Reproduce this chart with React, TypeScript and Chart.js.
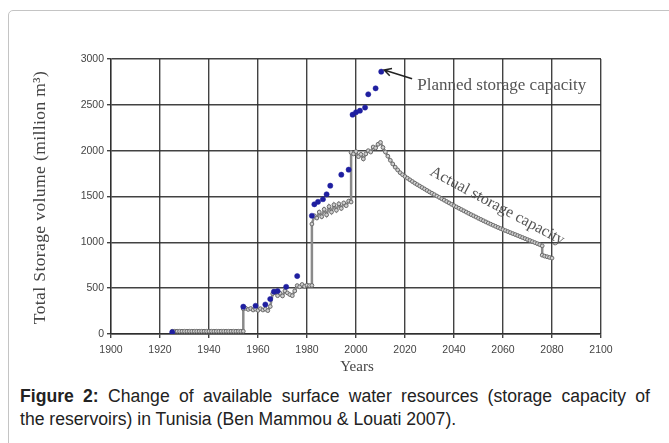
import React, { useEffect, useRef } from "react";
import { Chart, registerables } from "chart.js";

Chart.register(...registerables);

// ---- data ----
const xTickValues = [1900, 1920, 1940, 1960, 1980, 2000, 2020, 2040, 2060, 2080, 2100];
const yTickValues = [0, 500, 1000, 1500, 2000, 2500, 3000];

const plannedYears = [1925, 1954, 1959, 1963, 1965, 1966.5, 1968, 1971.5, 1976, 1982, 1983, 1984.5, 1986.5, 1988, 1989.5, 1994, 1997, 1998.6, 2000, 2001.6, 2003.7, 2005, 2008, 2010.3];
const plannedValues = [20, 298, 308, 322, 382, 462, 468, 515, 632, 1290, 1415, 1442, 1470, 1524, 1618, 1738, 1793, 2393, 2419, 2436, 2470, 2615, 2680, 2862];

const actualYears = [
  1925, 1926, 1927, 1928, 1929, 1930, 1931, 1932, 1933, 1934, 1935, 1936, 1937, 1938, 1939, 1940,
  1941, 1942, 1943, 1944, 1945, 1946, 1947, 1948, 1949, 1950, 1951, 1952, 1953, 1954,
  1954, 1955, 1956, 1957, 1958, 1959, 1960, 1961, 1962, 1963, 1964, 1965, 1966, 1967, 1968, 1969,
  1970, 1971, 1972, 1973, 1974, 1975, 1976, 1977, 1978, 1979, 1980, 1981, 1982,
  1982, 1983, 1984, 1985, 1986, 1987, 1988, 1989, 1990, 1991, 1992, 1993, 1994, 1995, 1996, 1997, 1998,
  1998, 1999, 2000, 2001, 2002, 2003, 2004, 2005, 2006, 2007, 2008, 2009, 2010,
  2011, 2012, 2013, 2014, 2015, 2016, 2017, 2018, 2019, 2020, 2021, 2022, 2023, 2024, 2025,
  2026, 2027, 2028, 2029, 2030, 2031, 2032, 2033, 2034, 2035, 2036, 2037, 2038, 2039, 2040,
  2041, 2042, 2043, 2044, 2045, 2046, 2047, 2048, 2049, 2050, 2051, 2052, 2053, 2054, 2055,
  2056, 2057, 2058, 2059, 2060, 2061, 2062, 2063, 2064, 2065, 2066, 2067, 2068, 2069, 2070,
  2071, 2072, 2073, 2074, 2075, 2076, 2076, 2077, 2078, 2079, 2080,
];
const actualValues = [
  30, 30, 30, 30, 30, 30, 30, 30, 30, 30, 30, 30, 30, 30, 30, 30,
  30, 30, 30, 30, 30, 30, 30, 30, 30, 30, 30, 30, 30, 30,
  275, 280, 268, 278, 262, 272, 258, 276, 262, 272, 255, 300, 440, 452, 418, 445,
  415, 470, 448, 430, 418, 470, 528, 515, 540, 520, 532, 528, 530,
  1200, 1290, 1265, 1330, 1280, 1360, 1300, 1390, 1330, 1410, 1350, 1420, 1370, 1430, 1400, 1450, 1440,
  1980, 1965, 1990, 1935, 1960, 1910, 1965, 2000, 1985, 2040, 2030, 2070, 2090,
  2035, 1985, 1940, 1895, 1855, 1820, 1790, 1760, 1738, 1718, 1700, 1682, 1664, 1646, 1630,
  1614, 1598, 1582, 1566, 1550, 1535, 1520, 1505, 1490, 1475, 1460, 1445, 1430, 1415, 1400,
  1386, 1372, 1358, 1344, 1330, 1316, 1302, 1289, 1276, 1262, 1249, 1236, 1223, 1210, 1198,
  1186, 1174, 1162, 1150, 1139, 1128, 1117, 1106, 1095, 1085, 1074, 1063, 1052, 1041, 1030,
  1019, 1008, 997, 986, 975, 962, 860, 850, 843, 835, 828,
];

const yAxisTitle = "Total Storage volume (million m³)";
const xAxisTitle = "Years";
const plannedLabel = "Planned storage capacity";
const actualLabel = "Actual storage capacity";
const captionBold = "Figure 2:";
const captionLine1 = " Change of available surface water resources (storage capacity of";
const captionLine2 = "the reservoirs) in Tunisia (Ben Mammou & Louati 2007).";

const SERIF = '"Liberation Serif", "DejaVu Serif", serif';
const SANS = '"Liberation Sans", Arial, sans-serif';

const textPlugin = {
  id: "texts",
  afterDraw(chart: any) {
    const ctx = chart.ctx;
    const { left, right, top, bottom } = chart.chartArea;
    const xs = chart.scales.x;
    const ys = chart.scales.y;
    ctx.save();
    // y axis title
    ctx.fillStyle = "#444";
    ctx.font = `17.5px ${SERIF}`;
    (ctx as any).letterSpacing = "0.4px";
    ctx.textAlign = "center";
    ctx.textBaseline = "middle";
    ctx.save();
    ctx.translate(left - 71, (top + bottom) / 2 + 1);
    ctx.rotate(-Math.PI / 2);
    ctx.fillText(yAxisTitle, 0, 0);
    ctx.restore();
    (ctx as any).letterSpacing = "0px";
    // x axis title
    ctx.font = `15px ${SERIF}`;
    ctx.fillText(xAxisTitle, (left + right) / 2 + 1, bottom + 33);

    // planned annotation
    ctx.fillStyle = "#555";
    ctx.font = `17px ${SERIF}`;
    ctx.textAlign = "left";
    ctx.fillText(plannedLabel, xs.getPixelForValue(2025), ys.getPixelForValue(2715));
    // arrow
    const tx = xs.getPixelForValue(2022.9), ty = ys.getPixelForValue(2785);
    const hx = xs.getPixelForValue(2011.5), hy = ys.getPixelForValue(2880);
    ctx.strokeStyle = "#222";
    ctx.lineWidth = 1.5;
    ctx.beginPath();
    ctx.moveTo(tx, ty);
    ctx.lineTo(hx, hy);
    const ang = Math.atan2(ty - hy, tx - hx);
    const len = 8;
    ctx.moveTo(hx + len * Math.cos(ang + 0.5), hy + len * Math.sin(ang + 0.5));
    ctx.lineTo(hx, hy);
    ctx.lineTo(hx + len * Math.cos(ang - 0.5), hy + len * Math.sin(ang - 0.5));
    ctx.stroke();

    // actual annotation (rotated)
    ctx.fillStyle = "#555";
    ctx.font = `16px ${SERIF}`;
    ctx.textAlign = "center";
    ctx.save();
    ctx.translate(xs.getPixelForValue(2057.6), ys.getPixelForValue(1396));
    ctx.rotate(0.49);
    ctx.fillText(actualLabel, 0, 0);
    ctx.restore();
    ctx.restore();
  },
};

export default function App() {
  const ref = useRef<HTMLCanvasElement | null>(null);

  useEffect(() => {
    if (!ref.current) return;
    const gridColor = "rgba(45,45,45,0.9)";
    const tickFont = { family: '"Liberation Sans Narrow", "Liberation Sans", Arial', size: 10.5 };
    const chart = new Chart(ref.current, {
      type: "scatter",
      data: {
        datasets: [
          {
            label: plannedLabel,
            data: plannedYears.map((x, i) => ({ x, y: plannedValues[i] })),
            showLine: false,
            pointRadius: 2.6,
            pointBackgroundColor: "#1f1fa0",
            pointBorderColor: "#1f1fa0",
            pointBorderWidth: 0.5,
          },
          {
            label: actualLabel,
            data: actualYears.map((x, i) => ({ x, y: actualValues[i] })),
            showLine: true,
            borderColor: "#8a8a8a",
            borderWidth: 2.5,
            pointRadius: 1.9,
            pointStyle: "circle",
            pointBackgroundColor: "#cfcfcf",
            pointBorderColor: "#6a6a6a",
            pointBorderWidth: 1,
          },
        ],
      },
      options: {
        animation: false,
        responsive: false,
        maintainAspectRatio: false,
        layout: { padding: { left: 0, top: 59, right: 68, bottom: 0 } },
        plugins: { legend: { display: false }, tooltip: { enabled: false } },
        scales: {
          x: {
            type: "linear",
            min: 1900,
            max: 2100,
            afterBuildTicks: (scale: any) => {
              scale.ticks = xTickValues.map((v) => ({ value: v }));
            },
            afterFit: (scale: any) => {
              scale.height = 46;
            },
            grid: { color: gridColor, lineWidth: 1.4, tickLength: 4, drawTicks: true },
            border: { display: true, color: gridColor, width: 1.4 },
            ticks: {
              color: "#444",
              padding: 6,
              maxRotation: 0,
              font: tickFont,
              callback: (v: any) => String(v),
            },
          },
          y: {
            type: "linear",
            min: 0,
            max: 3000,
            afterBuildTicks: (scale: any) => {
              scale.ticks = yTickValues.map((v) => ({ value: v }));
            },
            afterFit: (scale: any) => {
              scale.width = 111;
            },
            grid: { color: gridColor, lineWidth: 1.4, tickLength: 4, drawTicks: true },
            border: { display: true, color: gridColor, width: 1.4 },
            ticks: {
              color: "#444",
              padding: 3,
              font: tickFont,
              callback: (v: any) => String(v),
            },
          },
        },
      },
      plugins: [textPlugin],
    } as any);
    return () => chart.destroy();
  }, []);

  return (
    <div style={{ position: "fixed", left: 0, top: 0, width: 669, height: 443, overflow: "hidden", background: "#fff" }}>
      <div
        style={{
          position: "absolute",
          left: 8,
          top: 10,
          width: 720,
          height: 500,
          border: "1px solid #c4c4c4",
          borderRadius: 5,
        }}
      />
      <canvas ref={ref} width={669} height={380} style={{ position: "absolute", left: 0, top: 0, width: 669, height: 380 }} />
      <div
        style={{
          position: "absolute",
          left: 20,
          top: 385,
          width: 630,
          fontFamily: SANS,
          fontSize: 17.6,
          lineHeight: "23px",
          color: "#222",
        }}
      >
        <div style={{ textAlign: "justify", textAlignLast: "justify", whiteSpace: "nowrap" } as any}>
          <b>{captionBold}</b>
          {captionLine1}
        </div>
        <div>{captionLine2}</div>
      </div>
    </div>
  );
}
